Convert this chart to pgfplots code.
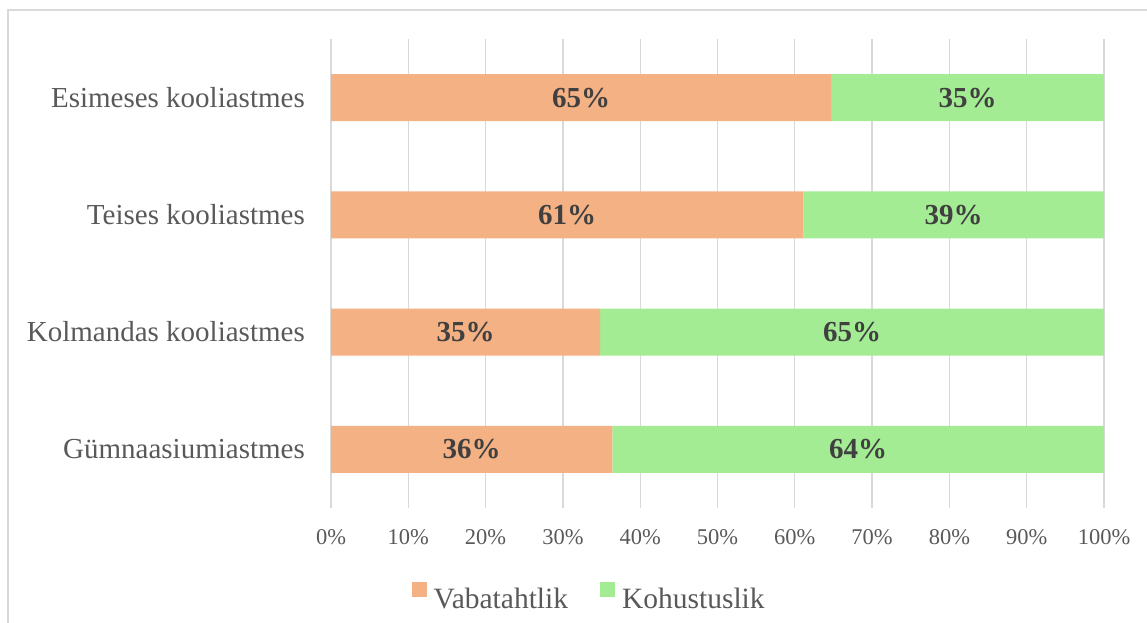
\documentclass[border=0pt]{standalone}
\usepackage{pgfplots}
\pgfplotsset{compat=1.18}
\usepackage{pgfplotstable}
\usepackage{fontspec}
\setmainfont{Liberation Serif}
\definecolor{orangebar}{HTML}{F4B183}
\definecolor{greenbar}{HTML}{A4EC94}
\definecolor{txtgray}{HTML}{595959}
\definecolor{lblgray}{HTML}{404040}
\definecolor{gridgray}{HTML}{D9D9D9}

\pgfplotstableread{
y v
1 36.4
2 34.8
3 61.1
4 64.7
}\vaba
\pgfplotstableread{
y v
1 63.6
2 65.2
3 38.9
4 35.3
}\kohu

\begin{document}
\begin{tikzpicture}[x=1pt,y=1pt]
\useasboundingbox (0,0) rectangle (1147,622);
\draw[gridgray, line width=1.5pt] (8,-10) -- (8,612) -- (1160,612);
\begin{axis}[
 at={(331pt,114pt)}, anchor=south west,
 scale only axis, width=773pt, height=469pt,
 xbar stacked, bar width=47pt,
 xmin=0, xmax=100, ymin=0.5, ymax=4.5,
 axis line style={draw=none},
 major tick length=0pt,
 xmajorgrids, grid style={gridgray, line width=1.3pt},
 xtick={0,10,...,100},
 xticklabels={0\%,10\%,20\%,30\%,40\%,50\%,60\%,70\%,80\%,90\%,100\%},
 ytick={1,2,3,4},
 yticklabels={Gümnaasiumiastmes, Kolmandas kooliastmes, Teises kooliastmes, Esimeses kooliastmes},
 xticklabel style={font=\fontsize{22.5}{26}\selectfont, text=txtgray, anchor=base, inner sep=0pt, yshift=-36pt},
 yticklabel style={font=\fontsize{29}{34}\selectfont, text=txtgray, anchor=base east, inner sep=0pt, xshift=-26pt, yshift=-9.6pt},
 nodes near coords={\pgfmathprintnumber[fixed,precision=0,assume math mode=true]{\pgfplotspointmeta}\%},
 every node near coord/.append style={font=\bfseries\fontsize{29}{32}\selectfont, text=lblgray, anchor=center},
 legend image code/.code={\fill[#1] (0pt,2pt) rectangle (15pt,17pt);},
 legend style={at={(rel axis cs:0.334,-0.189)}, anchor=center, draw=none, fill=none,
   font=\fontsize{29.5}{33}\selectfont, text=txtgray, legend columns=-1,
   /tikz/every odd column/.append style={column sep=5pt},
   /tikz/every even column/.append style={column sep=30pt}},
]
\addplot[fill=orangebar, draw=none, point meta=\thisrow{v}] table[x=v, y=y] {\vaba};
\addplot[fill=greenbar, draw=none, point meta=\thisrow{v}] table[x=v, y=y] {\kohu};
\legend{Vabatahtlik, Kohustuslik}
\end{axis}
\end{tikzpicture}
\end{document}
